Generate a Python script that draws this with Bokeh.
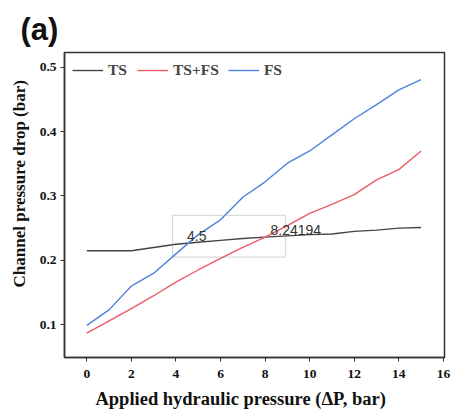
from bokeh.plotting import figure
from bokeh.models import Range1d, FixedTicker, Legend, LegendItem, Label, BoxAnnotation
from bokeh.embed import file_html
from bokeh.resources import INLINE

x = list(range(16))
ts = [0.215, 0.215, 0.215, 0.220, 0.225, 0.228, 0.231, 0.234, 0.236, 0.238, 0.240, 0.241, 0.245, 0.247, 0.250, 0.251]
tsfs = [0.087, 0.106, 0.125, 0.145, 0.166, 0.185, 0.203, 0.220, 0.236, 0.254, 0.273, 0.287, 0.302, 0.325, 0.341, 0.370]
fs = [0.099, 0.123, 0.160, 0.180, 0.210, 0.240, 0.263, 0.298, 0.322, 0.351, 0.370, 0.395, 0.420, 0.442, 0.465, 0.481]
x_ticks = [0, 2, 4, 6, 8, 10, 12, 14, 16]
y_ticks = [0.1, 0.2, 0.3, 0.4, 0.5]
box_x = [3.85, 8.92]
box_y = [0.205, 0.270]
label_x = [4.5, 8.24194]
label_y = [0.230, 0.240]
label_text = ["4.5", "8.24194"]

SERIF = "Liberation Serif"
NB = "\u00a0"

p = figure(width=454, height=416, output_backend="svg", toolbar_location=None,
           x_range=Range1d(-1.0, 16.05), y_range=Range1d(0.049, 0.523),
           min_border_left=64, min_border_right=10, min_border_top=52, min_border_bottom=59)
p.title.text = "(a)"
p.title.text_font = "Liberation Sans"
p.title.text_font_size = "31px"
p.title.text_font_style = "bold"
p.title.text_color = "#111111"
p.title.offset = -44
p.title.standoff = 10
p.title.vertical_align = "middle"
p.grid.visible = False
p.outline_line_color = "#333333"
p.outline_line_width = 1.5
p.background_fill_color = "white"

for ax in (p.xaxis[0], p.yaxis[0]):
    ax.axis_line_color = "#333333"
    ax.axis_line_width = 1.5
    ax.major_tick_line_color = "#333333"
    ax.major_tick_out = 4
    ax.major_tick_in = 0
    ax.minor_tick_line_color = None
    ax.major_label_text_font = SERIF
    ax.major_label_text_font_style = "bold"
    ax.major_label_text_font_size = "13.5px"
    ax.major_label_text_color = "#111111"
    ax.axis_label_text_font = SERIF
    ax.axis_label_text_font_style = "bold"
    ax.axis_label_text_color = "#111111"

p.xaxis.ticker = FixedTicker(ticks=x_ticks)
p.yaxis.ticker = FixedTicker(ticks=y_ticks)
p.xaxis.axis_label = "Applied hydraulic pressure (ΔP, bar)" + NB * 6
p.yaxis.axis_label = NB * 10 + "Channel pressure drop (bar)"
p.xaxis.axis_label_text_font_size = "18.5px"
p.yaxis.axis_label_text_font_size = "17px"
p.xaxis.major_label_standoff = 8
p.yaxis.major_label_standoff = 4
p.xaxis.axis_label_standoff = 8
p.yaxis.axis_label_standoff = 8

box = BoxAnnotation(left=box_x[0], right=box_x[1], bottom=box_y[0], top=box_y[1],
                    fill_color=None, fill_alpha=0, line_color="#888888", line_width=1.2)
p.add_layout(box)

r1 = p.line(x, ts, line_color="#444444", line_width=1.4)
r2 = p.line(x, tsfs, line_color="#ee5a66", line_width=1.4)
r3 = p.line(x, fs, line_color="#4d82dc", line_width=1.4)

for xv, yv, t in zip(label_x, label_y, label_text):
    p.add_layout(Label(x=xv, y=yv, text=t, text_font="Liberation Sans", text_font_size="14px",
                       text_color="#333333", text_align="left", text_baseline="bottom"))

legend = Legend(items=[LegendItem(label="TS", renderers=[r1]),
                       LegendItem(label="TS+FS", renderers=[r2]),
                       LegendItem(label="FS", renderers=[r3])],
                orientation="horizontal", location="top_left",
                border_line_color=None, background_fill_alpha=0,
                label_text_font=SERIF, label_text_font_style="bold", label_text_font_size="15.5px",
                glyph_width=31, spacing=9, padding=4, margin=8, label_standoff=5)
p.add_layout(legend)

open("out.html", "w").write(file_html(p, INLINE))
